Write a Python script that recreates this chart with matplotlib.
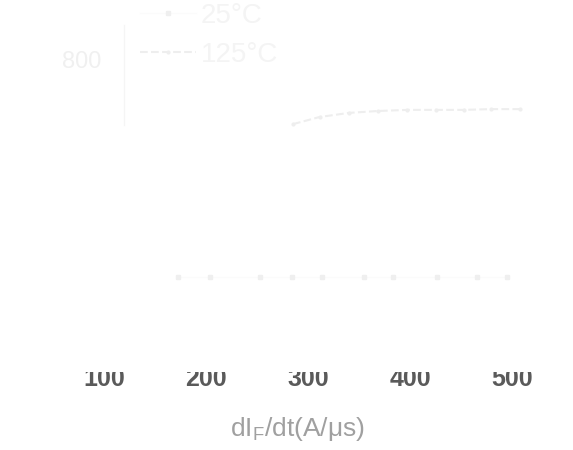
import matplotlib
matplotlib.use('Agg')
import matplotlib.pyplot as plt
from matplotlib.patches import Rectangle

plt.rcParams['font.family'] = ['Liberation Sans', 'DejaVu Sans']

# dIF/dt values (A/us) and readings for the two temperatures
didt_125 = [285, 311, 340, 368, 397, 425, 452, 479, 507]
val_125 = [628, 647, 658, 663, 666, 666, 666, 668, 668]

didt_25 = [172, 204, 253, 284, 313, 355, 383, 426, 465, 495]
val_25 = [221, 221, 221, 221, 221, 221, 221, 221, 221, 221]

xticks = [100, 200, 300, 400, 500]
yticks = [800]

fig = plt.figure(figsize=(5.73, 4.5), dpi=100)
ax = fig.add_axes([104 / 573, 1 - 360 / 450, 431 / 573, 338 / 450])

ax.plot(didt_25, val_25, color='#fbfbfb', linewidth=1, marker='s', markersize=3,
        markerfacecolor='#efefef', markeredgecolor='#efefef', label='25°C')
ax.plot(didt_125, val_125, color='#eeeeee', linestyle='--', linewidth=1.5,
        marker='o', markersize=2, label='125°C')

ax.set_xlim(100, 522)
ax.set_ylim(0, 900)
ax.set_xticks(xticks)
ax.set_yticks(yticks)
ax.tick_params(axis='x', length=0, pad=5, labelsize=18, labelcolor='#5a5a5a')
ax.tick_params(axis='y', length=0, pad=2, labelsize=17, labelcolor='#f0f0f0')
for lab in ax.get_xticklabels():
    lab.set_fontweight('bold')
for s in ax.spines.values():
    s.set_visible(False)

ax.set_xlabel('dI$_\\mathregular{F}$/dt(A/μs)', fontsize=19, color='#a0a0a0')
ax.xaxis.set_label_coords((297 - 104) / 431, -(415 - 360) / 338)

leg = ax.legend(loc='upper left', bbox_to_anchor=((115 - 104) / 431, 1 + 44 / 338), fontsize=20,
                frameon=False, handlelength=2.0, handletextpad=0.2, labelspacing=0.45)
for t in leg.get_texts():
    t.set_color('#f4f4f4')
ax.axvline(119.6, ymin=(360 - 125) / 338, ymax=(360 - 25) / 338, color='#f5f5f5', linewidth=1)

# washed-out band over the top of the tick labels, as in the source image
band = Rectangle((0, 1 - 372 / 450), 1, 12 / 450, transform=fig.transFigure,
                 facecolor='white', edgecolor='none', zorder=10)
fig.add_artist(band)

fig.savefig('out.png', dpi=100)
